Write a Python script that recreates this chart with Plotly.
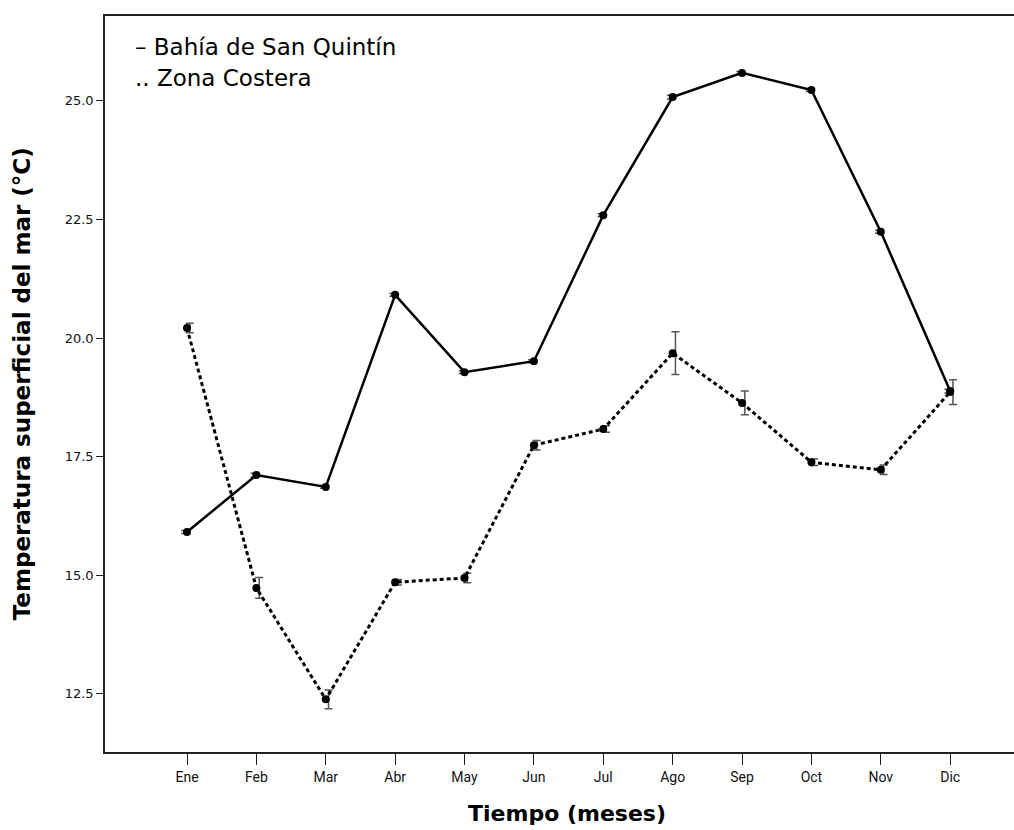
import plotly.graph_objects as go

# Monthly sea-surface temperature (°C) with standard errors
meses = ["Ene", "Feb", "Mar", "Abr", "May", "Jun", "Jul", "Ago", "Sep", "Oct", "Nov", "Dic"]
bahia = [15.91, 17.11, 16.86, 20.91, 19.28, 19.51, 22.59, 25.08, 25.59, 25.23, 22.24, 18.88]
bahia_err = [0.03, 0.04, 0.03, 0.03, 0.03, 0.03, 0.03, 0.04, 0.03, 0.03, 0.03, 0.04]
costera = [20.21, 14.73, 12.38, 14.85, 14.94, 17.74, 18.08, 19.68, 18.63, 17.38, 17.22, 18.86]
costera_err = [0.10, 0.22, 0.20, 0.06, 0.10, 0.10, 0.07, 0.45, 0.25, 0.07, 0.10, 0.26]

x = list(range(len(meses)))
font_main = "DejaVu Sans"
err_color = "#555555"

fig = go.Figure()

# error whiskers, dodged slightly to each side of the markers
fig.add_trace(go.Scatter(
    x=[i - 0.04 for i in x], y=bahia, mode="markers",
    marker=dict(size=1, color="rgba(0,0,0,0)"),
    error_y=dict(type="data", array=bahia_err, visible=True,
                 color=err_color, thickness=1.5, width=3),
    hoverinfo="skip", showlegend=False,
))
fig.add_trace(go.Scatter(
    x=[i + 0.04 for i in x], y=costera, mode="markers",
    marker=dict(size=1, color="rgba(0,0,0,0)"),
    error_y=dict(type="data", array=costera_err, visible=True,
                 color=err_color, thickness=1.5, width=4),
    hoverinfo="skip", showlegend=False,
))

fig.add_trace(go.Scatter(
    x=x, y=bahia, mode="lines+markers", name="Bahía de San Quintín",
    line=dict(color="black", width=2.5),
    marker=dict(size=8, color="black"),
    showlegend=False,
))
fig.add_trace(go.Scatter(
    x=x, y=costera, mode="lines+markers", name="Zona Costera",
    line=dict(color="black", width=3, dash="4px,3px"),
    marker=dict(size=8, color="black"),
    showlegend=False,
))

fig.update_layout(
    width=1014, height=830,
    margin=dict(l=105, r=0, t=16, b=78),
    paper_bgcolor="white", plot_bgcolor="white",
    font=dict(family=font_main, color="black"),
    xaxis=dict(
        range=[-1.182, 11.92], tickmode="array", tickvals=x, ticktext=meses,
        showgrid=False, zeroline=False,
        showline=True, linecolor="#222222", linewidth=1.5, mirror=True,
        ticks="outside", ticklen=11, tickwidth=1.2, tickcolor="#222222",
        tickfont=dict(family="Liberation Sans Narrow, Roboto, Liberation Sans", size=14, color="#111111"),
    ),
    yaxis=dict(
        range=[11.27, 26.79], tickmode="array",
        tickvals=[12.5, 15.0, 17.5, 20.0, 22.5, 25.0],
        ticktext=["12.5", "15.0", "17.5", "20.0", "22.5", "25.0"],
        showgrid=False, zeroline=False,
        showline=True, linecolor="#222222", linewidth=1.5,
        ticks="outside", ticklen=7, tickwidth=1.2, tickcolor="#222222",
        tickfont=dict(family=font_main, size=13, color="#111111"),
    ),
    annotations=[
        dict(text="Temperatura superficial del mar (°C)", xref="paper", yref="paper",
             x=-0.091, y=0.5, xanchor="center", yanchor="middle", textangle=-90,
             showarrow=False, font=dict(family=font_main, size=23, color="black", weight="bold")),
        dict(text="Tiempo (meses)", xref="paper", yref="paper",
             x=0.508, y=-0.064, xanchor="center", yanchor="top",
             showarrow=False, font=dict(family=font_main, size=22, color="black", weight="bold")),
        dict(text="– Bahía de San Quintín", xref="paper", yref="paper",
             x=0.031, y=0.958, xanchor="left", yanchor="middle",
             showarrow=False, font=dict(family=font_main, size=23, color="black")),
        dict(text=".. Zona Costera", xref="paper", yref="paper",
             x=0.031, y=0.916, xanchor="left", yanchor="middle",
             showarrow=False, font=dict(family=font_main, size=23, color="black")),
    ],
)

fig.write_html("out.html")
